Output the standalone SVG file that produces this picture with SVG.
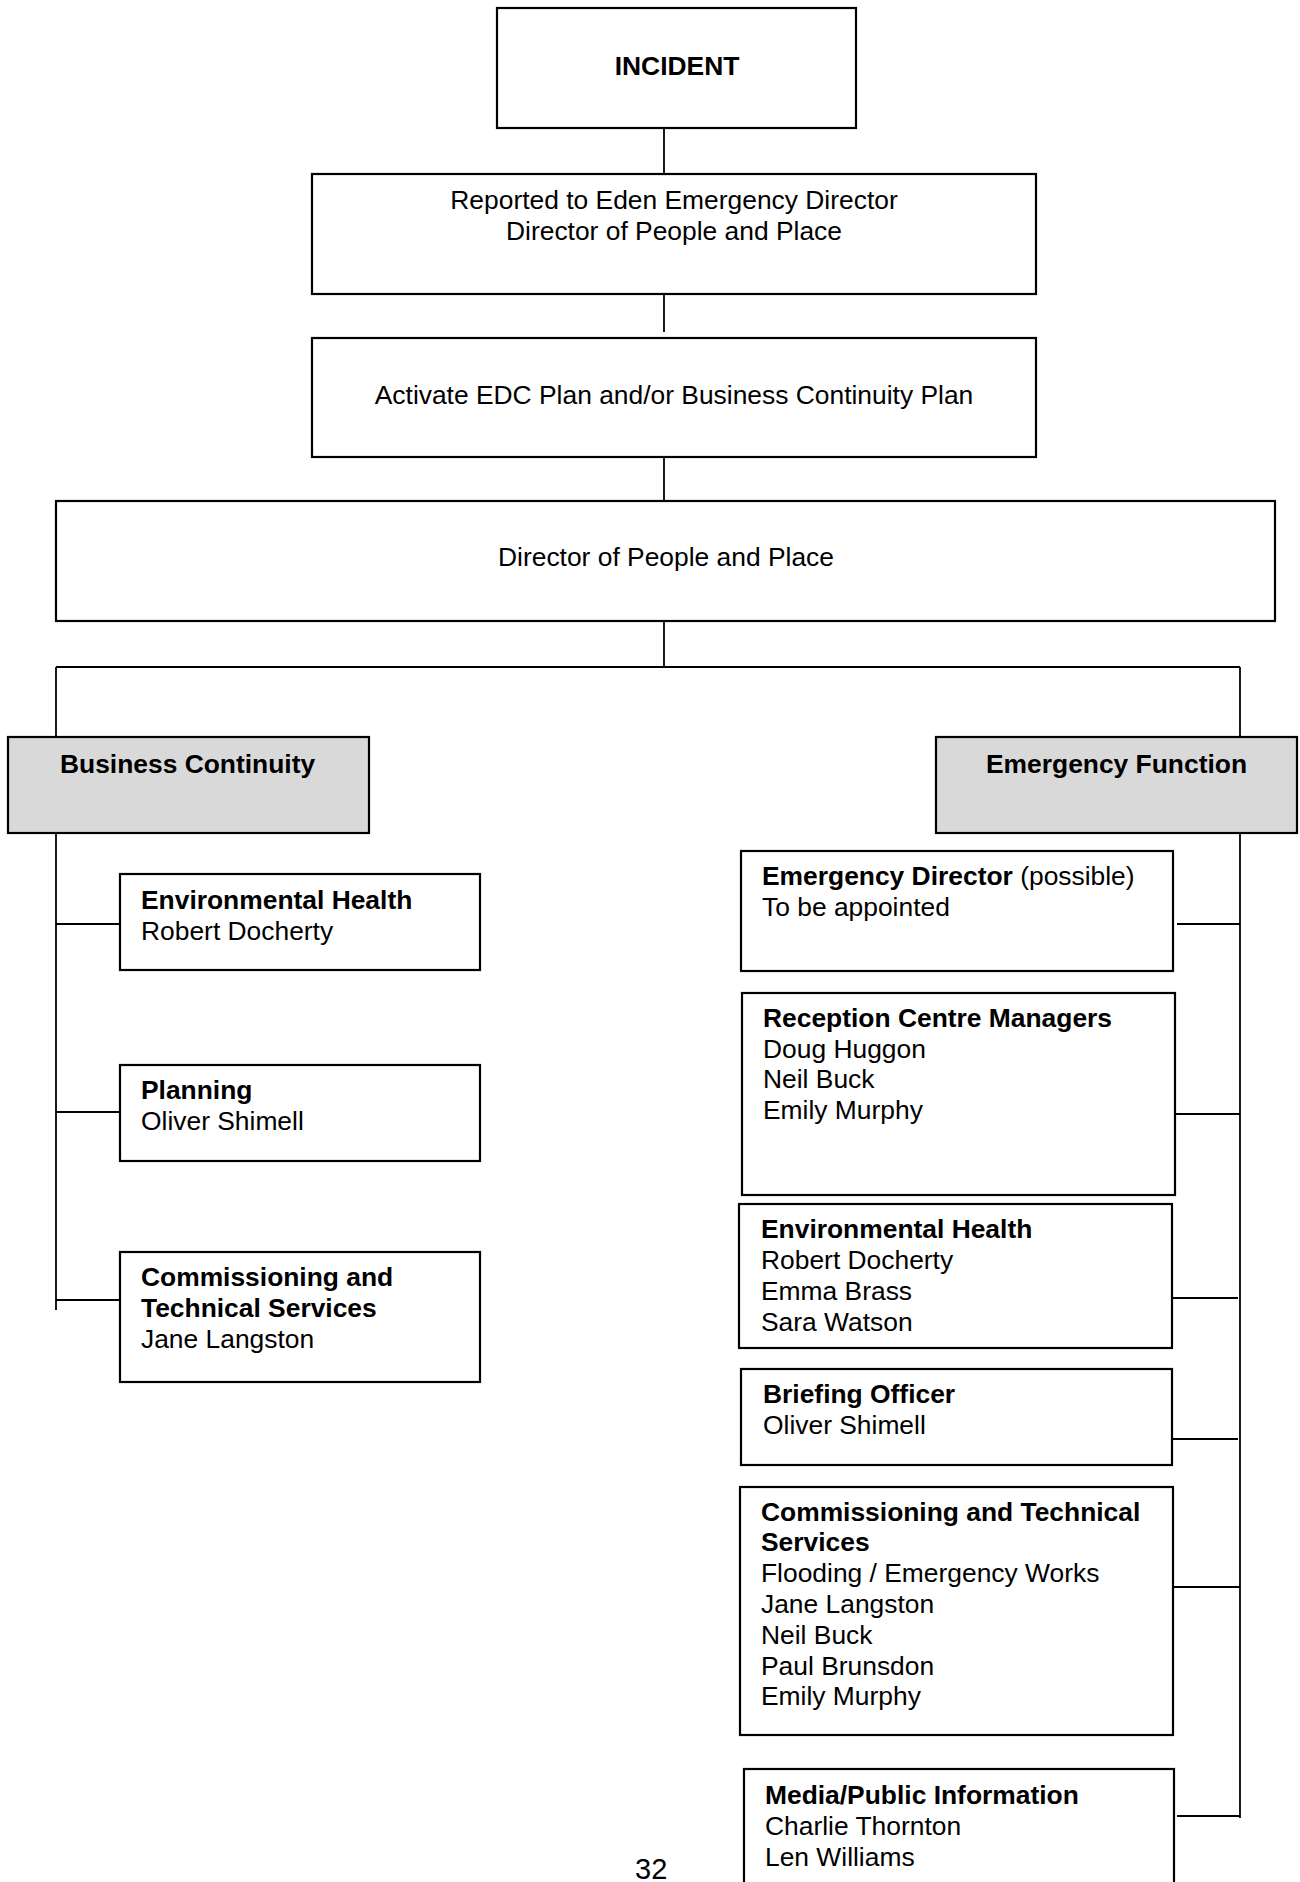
<svg xmlns="http://www.w3.org/2000/svg" width="1300" height="1882" viewBox="0 0 1300 1882">
<style>
.box{fill:#fff;stroke:#000;stroke-width:2.2}
.hdr{fill:#d9d9d9;stroke:#000;stroke-width:2.2}
.ln{stroke:#000;stroke-width:1.8;fill:none}
text{font-family:"Liberation Sans",Arial,sans-serif;font-size:26.4px;fill:#000}
.b{font-weight:bold}
.c{text-anchor:middle}
</style>
<rect width="1300" height="1882" fill="#fff"/>
<g id="connectors">
<line class="ln" x1="664" y1="128" x2="664" y2="174"/>
<line class="ln" x1="664" y1="294" x2="664" y2="332"/>
<line class="ln" x1="664" y1="454" x2="664" y2="501"/>
<line class="ln" x1="664" y1="621" x2="664" y2="667"/>
<line class="ln" x1="56" y1="667" x2="1240" y2="667"/>
<line class="ln" x1="56" y1="667" x2="56" y2="737"/>
<line class="ln" x1="1240" y1="667" x2="1240" y2="737"/>
<line class="ln" x1="56" y1="833" x2="56" y2="1310"/>
<line class="ln" x1="56" y1="924" x2="120" y2="924"/>
<line class="ln" x1="56" y1="1112" x2="120" y2="1112"/>
<line class="ln" x1="56" y1="1300" x2="120" y2="1300"/>
<line class="ln" x1="1240" y1="833" x2="1240" y2="1818"/>
<line class="ln" x1="1177" y1="924" x2="1240" y2="924"/>
<line class="ln" x1="1175" y1="1114" x2="1240" y2="1114"/>
<line class="ln" x1="1172" y1="1298" x2="1238" y2="1298"/>
<line class="ln" x1="1172" y1="1439" x2="1238" y2="1439"/>
<line class="ln" x1="1173" y1="1587" x2="1240" y2="1587"/>
<line class="ln" x1="1177" y1="1816" x2="1240" y2="1816"/>
</g>
<g id="incident">
<rect class="box" x="497" y="8" width="359" height="120"/>
<text class="b c" x="677" y="75">INCIDENT</text>
</g>
<g id="reported">
<rect class="box" x="312" y="174" width="724" height="120"/>
<text class="c" x="674" y="209">Reported to Eden Emergency Director</text>
<text class="c" x="674" y="240">Director of People and Place</text>
</g>
<g id="activate">
<rect class="box" x="312" y="338" width="724" height="119"/>
<text class="c" x="674" y="404">Activate EDC Plan and/or Business Continuity Plan</text>
</g>
<g id="director">
<rect class="box" x="56" y="501" width="1219" height="120"/>
<text class="c" x="666" y="566">Director of People and Place</text>
</g>
<g id="business-continuity">
<rect class="hdr" x="8" y="737" width="361" height="96"/>
<text class="b" x="60" y="773">Business Continuity</text>
</g>
<g id="emergency-function">
<rect class="hdr" x="936" y="737" width="361" height="96"/>
<text class="b" x="986" y="773">Emergency Function</text>
</g>
<g id="bc-environmental-health">
<rect class="box" x="120" y="874" width="360" height="96"/>
<text class="b" x="141" y="909">Environmental Health</text>
<text x="141" y="940">Robert Docherty</text>
</g>
<g id="bc-planning">
<rect class="box" x="120" y="1065" width="360" height="96"/>
<text class="b" x="141" y="1099">Planning</text>
<text x="141" y="1130">Oliver Shimell</text>
</g>
<g id="bc-commissioning">
<rect class="box" x="120" y="1252" width="360" height="130"/>
<text class="b" x="141" y="1286">Commissioning and</text>
<text class="b" x="141" y="1317">Technical Services</text>
<text x="141" y="1348">Jane Langston</text>
</g>
<g id="ef-emergency-director">
<rect class="box" x="741" y="851" width="432" height="120"/>
<text x="762" y="885"><tspan class="b">Emergency Director</tspan> (possible)</text>
<text x="762" y="916">To be appointed</text>
</g>
<g id="ef-reception">
<rect class="box" x="742" y="993" width="433" height="202"/>
<text class="b" x="763" y="1027">Reception Centre Managers</text>
<text x="763" y="1058">Doug Huggon</text>
<text x="763" y="1088">Neil Buck</text>
<text x="763" y="1119">Emily Murphy</text>
</g>
<g id="ef-environmental-health">
<rect class="box" x="739" y="1204" width="433" height="144"/>
<text class="b" x="761" y="1238">Environmental Health</text>
<text x="761" y="1269">Robert Docherty</text>
<text x="761" y="1300">Emma Brass</text>
<text x="761" y="1331">Sara Watson</text>
</g>
<g id="ef-briefing">
<rect class="box" x="741" y="1369" width="431" height="96"/>
<text class="b" x="763" y="1403">Briefing Officer</text>
<text x="763" y="1434">Oliver Shimell</text>
</g>
<g id="ef-commissioning">
<rect class="box" x="740" y="1487" width="433" height="248"/>
<text class="b" x="761" y="1521">Commissioning and Technical</text>
<text class="b" x="761" y="1551">Services</text>
<text x="761" y="1582">Flooding / Emergency Works</text>
<text x="761" y="1613">Jane Langston</text>
<text x="761" y="1644">Neil Buck</text>
<text x="761" y="1675">Paul Brunsdon</text>
<text x="761" y="1705">Emily Murphy</text>
</g>
<g id="ef-media">
<rect class="box" x="744" y="1769" width="430" height="140"/>
<text class="b" x="765" y="1804">Media/Public Information</text>
<text x="765" y="1835">Charlie Thornton</text>
<text x="765" y="1866">Len Williams</text>
</g>
<text x="635" y="1879" style="font-size:29px">32</text>
</svg>
